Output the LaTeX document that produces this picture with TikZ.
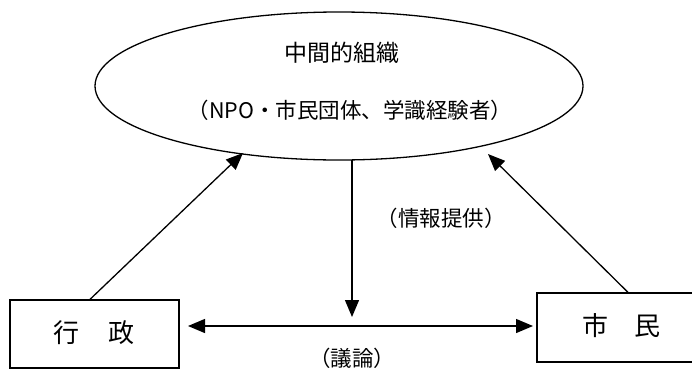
\documentclass[tikz,border=0pt]{standalone}
\usepackage{fontspec}
\setmainfont{Noto Sans CJK JP}
\usetikzlibrary{arrows.meta,shapes.geometric}
\begin{document}
\begin{tikzpicture}[x=1pt,y=-1pt,
  line width=1.3pt,
  tip/.style={-{Triangle[length=17pt,width=14pt]}},
  dtip/.style={{Triangle[length=17pt,width=14pt]}-{Triangle[length=17pt,width=14pt]}},
  boxnode/.style={draw,rectangle,inner sep=0pt},
  lbl/.style={font=\fontsize{21.5}{24}\selectfont,inner sep=0pt},
  boxlbl/.style={font=\fontsize{26}{30}\selectfont,inner sep=0pt}]
\useasboundingbox (0,0) rectangle (692,378);
\clip (0,0) rectangle (692,378);
\node[draw,ellipse,minimum width=488pt,minimum height=148pt,inner sep=0pt] (ell) at (339,86) {};
\node[lbl,font=\fontsize{23}{26}\selectfont] (t1) at (342,53) {中間的組織};
\node[lbl] (t2) at (350,110) {（NPO・市民団体、学識経験者）};
\node[boxnode,minimum width=169pt,minimum height=68pt] (lbox) at (94.5,334) {};
\node[boxlbl] (ltxt) at (94,333) {行\hspace{1.1em}政};
\node[boxnode,minimum width=182pt,minimum height=69pt] (rbox) at (628,327.5) {};
\node[boxlbl] (rtxt) at (621,326) {市\hspace{1em}民};
\coordinate (eL) at (243,153);
\coordinate (eR) at (488,154);
\coordinate (eB) at (352,160);
\coordinate (vT) at (352,317);
\coordinate (hL) at (188,326);
\coordinate (hR) at (533,326);
\draw[tip] (lbox.north -| 90,0) -- (eL);
\draw[tip] (rbox.north) -- (eR);
\draw[tip] (eB) -- (vT);
\draw[dtip] (hL) -- (hR);
\node[lbl] (info) at (441,218) {（情報提供）};
\node[lbl] (gi) at (352,358) {（議論）};
\end{tikzpicture}
\end{document}
